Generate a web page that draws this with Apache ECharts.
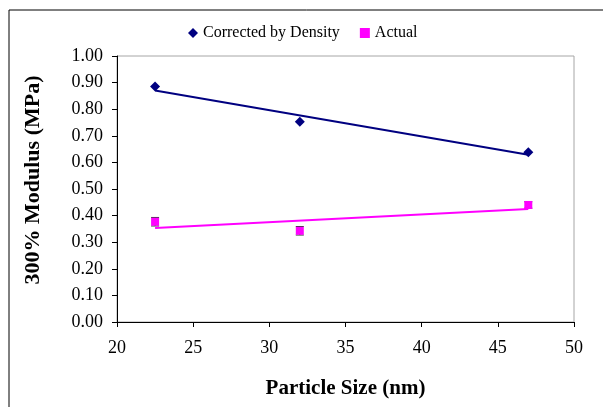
<!DOCTYPE html>
<html>
<head>
<meta charset="utf-8">
<script src="https://cdn.jsdelivr.net/npm/echarts@6/dist/echarts.min.js"></script>
<style>
  html, body { margin: 0; padding: 0; background: #fff; }
  #chart { width: 603px; height: 407px; }
</style>
</head>
<body>
<div id="chart"></div>
<script>
// particle sizes (nm)
const sizes = [22.5, 32, 47];
// 300% modulus (MPa)
const corrected = [0.885, 0.753, 0.638];
const actual = [0.377, 0.343, 0.44];
const actualErr = [0.016, 0.016, 0.012];
const yTicks = ['0.00','0.10','0.20','0.30','0.40','0.50','0.60','0.70','0.80','0.90','1.00'];

// least squares trend line, drawn over the data range
function trend(xs, ys) {
  const n = xs.length
  const mx = xs.reduce((a, b) => a + b, 0) / n
  const my = ys.reduce((a, b) => a + b, 0) / n
  let sxy = 0, sxx = 0
  for (let i = 0; i < n; i++) {
    sxy += (xs[i] - mx) * (ys[i] - my)
    sxx += (xs[i] - mx) * (xs[i] - mx)
  }
  const k = sxy / sxx
  const x0 = Math.min(...xs), x1 = Math.max(...xs)
  return [[x0, my + k * (x0 - mx)], [x1, my + k * (x1 - mx)]]
}

const pairs = (xs, ys) => xs.map((x, i) => [x, ys[i]])
const font = 'Liberation Serif'
const navy = '#000080'
const pink = '#FF00FF'

var chart = echarts.init(document.getElementById('chart'));
chart.setOption({
  animation: false,
  textStyle: { fontFamily: font },
  graphic: [{
    type: 'rect',
    shape: { x: 9, y: 10, width: 700, height: 500 },
    style: { fill: 'none', stroke: '#000', lineWidth: 1 },
    silent: true, z: -1
  }],
  legend: {
    top: 20,
    left: 183,
    itemGap: 20,
    itemWidth: 10,
    itemHeight: 10,
    textStyle: { fontFamily: font, fontSize: 16, color: '#000' },
    data: [
      { name: 'Corrected by Density', icon: 'diamond' },
      { name: 'Actual', icon: 'rect' }
    ]
  },
  grid: { left: 117, right: 29, top: 56, bottom: 85, show: true, borderColor: '#a6a6a6', borderWidth: 1 },
  xAxis: {
    type: 'value',
    min: 20, max: 50, interval: 5,
    name: 'Particle Size (nm)',
    nameLocation: 'middle',
    nameGap: 56,
    nameTextStyle: { fontFamily: font, fontWeight: 'bold', fontSize: 21, color: '#000' },
    axisLine: { lineStyle: { color: '#000' } },
    axisTick: { length: 5, lineStyle: { color: '#000' } },
    axisLabel: { fontFamily: font, fontSize: 18, color: '#000', margin: 17 },
    splitLine: { show: false }
  },
  yAxis: {
    type: 'value',
    min: 0, max: 1, interval: 0.1,
    name: '300% Modulus (MPa)',
    nameLocation: 'middle',
    nameGap: 73,
    nameTextStyle: { fontFamily: font, fontWeight: 'bold', fontSize: 22, color: '#000', padding: [0, 0, 0, 18] },
    axisLine: { show: true, lineStyle: { color: '#000' } },
    axisTick: { show: true, length: 5, lineStyle: { color: '#000' } },
    axisLabel: {
      fontFamily: font, fontSize: 18, color: '#000', margin: 14,
      formatter: (v) => yTicks[Math.round(v * 10)]
    },
    splitLine: { show: false }
  },
  series: [
    {
      name: 'Corrected by Density',
      type: 'scatter',
      symbol: 'diamond',
      symbolSize: 10,
      itemStyle: { color: navy, opacity: 1 },
      data: pairs(sizes, corrected),
      z: 5
    },
    {
      name: 'Actual',
      type: 'scatter',
      symbol: 'rect',
      symbolSize: 8,
      itemStyle: { color: pink, opacity: 1 },
      data: pairs(sizes, actual),
      z: 5
    },
    {
      name: 'actual error',
      type: 'custom',
      data: sizes.map((x, i) => [x, actual[i] - actualErr[i], actual[i] + actualErr[i]]),
      renderItem: function (params, api) {
        const lo = api.coord([api.value(0), api.value(1)])
        const hi = api.coord([api.value(0), api.value(2)])
        const w = 4
        const s = { stroke: '#333', lineWidth: 1 }
        return {
          type: 'group',
          children: [
            { type: 'line', shape: { x1: lo[0], y1: lo[1], x2: hi[0], y2: hi[1] }, style: s },
            { type: 'line', shape: { x1: lo[0] - w, y1: lo[1], x2: lo[0] + w, y2: lo[1] }, style: s },
            { type: 'line', shape: { x1: hi[0] - w, y1: hi[1], x2: hi[0] + w, y2: hi[1] }, style: s }
          ]
        }
      },
      z: 3
    },
    {
      name: 'corrected trend',
      type: 'line',
      symbol: 'none',
      lineStyle: { color: navy, width: 2 },
      data: trend(sizes, corrected),
      z: 4
    },
    {
      name: 'actual trend',
      type: 'line',
      symbol: 'none',
      lineStyle: { color: pink, width: 2 },
      data: trend(sizes, actual),
      z: 4
    }
  ]
})
</script>
</body>
</html>
